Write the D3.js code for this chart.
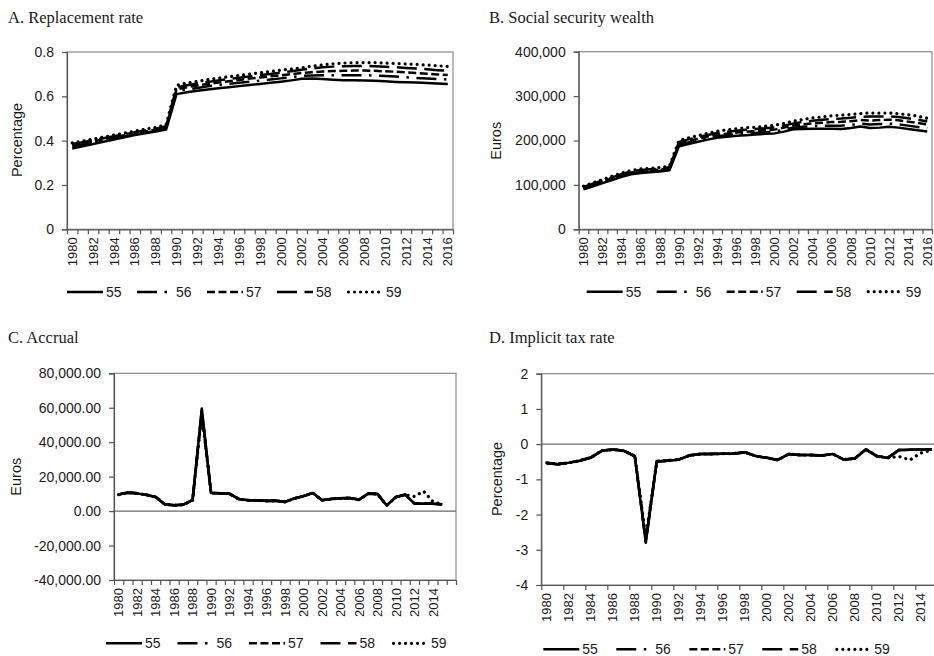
<!DOCTYPE html>
<html>
<head>
<meta charset="utf-8">
<script src="https://cdn.jsdelivr.net/npm/d3@7"></script>
<style>
  body { margin: 0; background: #fff; }
  svg { display: block; }
</style>
</head>
<body>
<svg id="chart" width="934" height="656"></svg>
<script>
// Categories (years) for panels A/B and C/D
const yearsAB = [1980,1981,1982,1983,1984,1985,1986,1987,1988,1989,1990,1991,1992,1993,1994,1995,1996,1997,1998,1999,
                 2000,2001,2002,2003,2004,2005,2006,2007,2008,2009,2010,2011,2012,2013,2014,2015,2016];
const yearsCD = [1980,1981,1982,1983,1984,1985,1986,1987,1988,1989,1990,1991,1992,1993,1994,1995,1996,1997,1998,1999,
                 2000,2001,2002,2003,2004,2005,2006,2007,2008,2009,2010,2011,2012,2013,2014,2015,""];

const seriesNames = ["55", "56", "57", "58", "59"];

// A. Replacement rate
const repl55 = [.365,.375,.385,.395,.405,.415,.425,.433,.441,.450,.610,.618,.625,.631,.636,.641,.646,.651,.656,.661,
                .666,.672,.679,.680,.678,.675,.673,.672,.671,.670,.668,.665,.663,.662,.660,.658,.656];
const repl56 = [.375,.383,.392,.401,.410,.419,.428,.436,.444,.455,.622,.631,.638,.645,.651,.656,.661,.666,.671,.676,
                .681,.686,.692,.694,.695,.695,.695,.695,.695,.694,.692,.689,.686,.683,.680,.678,.676];
const repl57 = [.380,.388,.397,.406,.415,.424,.433,.441,.449,.460,.632,.641,.649,.656,.662,.668,.674,.680,.685,.690,
                .695,.700,.705,.709,.712,.714,.715,.716,.716,.715,.713,.711,.708,.705,.702,.699,.696];
const repl58 = [.385,.393,.402,.411,.420,.429,.438,.446,.454,.465,.640,.650,.658,.665,.672,.678,.684,.690,.696,.701,
                .707,.713,.720,.726,.731,.734,.736,.737,.737,.736,.734,.731,.728,.725,.722,.718,.715];
const repl59 = [.390,.398,.407,.416,.425,.434,.443,.452,.460,.472,.650,.660,.668,.675,.682,.688,.694,.700,.706,.712,
                .718,.723,.729,.736,.742,.747,.750,.752,.752,.752,.750,.748,.746,.744,.741,.738,.735];

// B. Social security wealth (euros)
const ssw55 = [90000,97000,104000,111000,118000,124000,127000,128500,130000,133000,187000,192000,197000,202000,206000,208500,210500,212000,213500,215000,
               216000,220000,225500,226000,226500,226500,226500,226000,228000,231500,228000,229000,231000,229000,226000,223000,220500];
const ssw56 = [92000,99000,106000,113000,120000,126000,129000,130500,132000,135000,190500,195500,200500,205500,209500,212000,214000,215500,217000,218500,
               220000,224000,229500,231000,232500,233000,233500,233500,235000,238000,236000,237000,238000,236500,233500,230500,227500];
const ssw57 = [93500,100500,108000,115000,122000,128000,131000,132500,134500,137500,193500,199000,204000,209000,213000,215500,218000,219500,221500,223000,
               224500,229000,234000,236500,238500,240000,241500,242000,243500,246000,245000,246000,247000,245500,242500,239500,236000];
const ssw58 = [95500,102500,110000,117000,124500,130500,133500,135000,136500,139500,196500,202500,207500,212500,217000,219500,222000,224000,226000,227500,
               229500,233500,238500,242000,244500,246500,248500,249500,251000,253500,254000,254000,254500,253000,250000,247000,243000];
const ssw59 = [97000,104500,112000,119500,127000,132500,136000,137500,139000,142000,200000,206000,211000,216000,221000,224000,226500,228500,230000,232000,
               234500,238500,243500,247500,251000,253000,255500,257000,258500,260500,262000,261500,262000,260000,258000,255000,250000];

// C. Accrual (euros)
const acc55 = [9600,10700,10300,9400,8200,3900,3400,3700,6300,59500,10500,10300,10000,7000,6300,6200,5900,6000,5300,7300,
               8700,10500,6300,7000,7400,7600,6600,10100,9900,3300,8100,9500,4400,4300,4200,3900];
const acc56 = [9700,10800,10400,9500,8300,4000,3500,3800,6400,59000,10600,10400,10100,7100,6400,6300,6000,6100,5400,7400,
               8800,10600,6400,7100,7500,7700,6700,10200,10000,3400,8200,9600,4500,4400,4300,4000];
const acc57 = [9650,10750,10350,9450,8250,3950,3450,3750,6350,58000,10550,10350,10050,7050,6350,6250,5950,6050,5350,7350,
               8750,10550,6350,7050,7450,7650,6650,10150,9950,3350,8150,9550,4450,4350,4250,3950];
const acc58 = [9700,10700,10300,9500,8200,3900,3400,3700,6400,57000,10500,10300,10000,7000,6300,6200,5900,6000,5300,7300,
               8700,10500,6300,7000,7400,7600,6600,10100,9900,3300,8100,9500,4400,4300,4200,3900];
const acc59 = [9600,10700,10300,9400,8200,3900,3400,3700,6300,56000,10500,10300,10000,7000,6300,6200,5900,6000,5300,7300,
               8700,10500,6300,7000,7400,7600,6600,10100,9900,3300,8100,9500,8500,11500,5500,4000];

// D. Implicit tax rate
const itr55 = [-0.53,-0.57,-0.53,-0.47,-0.38,-0.19,-0.15,-0.19,-0.34,-2.80,-0.49,-0.47,-0.44,-0.32,-0.28,-0.28,-0.27,-0.27,-0.23,-0.34,
               -0.39,-0.45,-0.28,-0.31,-0.31,-0.32,-0.28,-0.44,-0.41,-0.15,-0.34,-0.39,-0.17,-0.16,-0.16,-0.15];
const itr56 = [-0.54,-0.57,-0.54,-0.47,-0.39,-0.19,-0.16,-0.19,-0.35,-2.78,-0.49,-0.47,-0.44,-0.32,-0.28,-0.28,-0.27,-0.27,-0.23,-0.34,
               -0.39,-0.45,-0.28,-0.31,-0.31,-0.32,-0.28,-0.44,-0.41,-0.15,-0.34,-0.39,-0.17,-0.16,-0.16,-0.15];
const itr57 = [-0.53,-0.56,-0.53,-0.46,-0.38,-0.18,-0.15,-0.18,-0.34,-2.74,-0.48,-0.46,-0.43,-0.31,-0.28,-0.27,-0.27,-0.26,-0.23,-0.34,
               -0.38,-0.44,-0.28,-0.31,-0.31,-0.32,-0.28,-0.43,-0.41,-0.15,-0.34,-0.39,-0.17,-0.16,-0.16,-0.15];
const itr58 = [-0.54,-0.57,-0.53,-0.47,-0.38,-0.19,-0.15,-0.19,-0.34,-2.70,-0.49,-0.47,-0.44,-0.32,-0.28,-0.28,-0.27,-0.27,-0.23,-0.34,
               -0.39,-0.45,-0.28,-0.31,-0.31,-0.32,-0.28,-0.44,-0.41,-0.15,-0.34,-0.39,-0.17,-0.16,-0.16,-0.15];
const itr59 = [-0.53,-0.57,-0.53,-0.47,-0.38,-0.19,-0.15,-0.19,-0.34,-2.65,-0.49,-0.47,-0.44,-0.32,-0.28,-0.28,-0.27,-0.27,-0.23,-0.34,
               -0.39,-0.45,-0.28,-0.31,-0.31,-0.32,-0.28,-0.44,-0.41,-0.15,-0.34,-0.39,-0.35,-0.45,-0.25,-0.17];

// Tick values
const ticksA = [0, 0.2, 0.4, 0.6, 0.8];
const ticksB = [0, 100000, 200000, 300000, 400000];
const ticksC = [-40000, -20000, 0, 20000, 40000, 60000, 80000];
const ticksD = [-4, -3, -2, -1, 0, 1, 2];

// Line styles per series: solid, long dash dot, dash, long dash, round dot
const dashes = [null, "20 7.5 2.5 7.5", "8 3.5", "20 7.5", "0.01 6"];
const caps = ["butt", "butt", "butt", "butt", "round"];
const widths = [2.5, 2.5, 2.5, 2.5, 3.2];

const loc = d3.formatLocale({decimal: ".", thousands: ",", grouping: [3], currency: ["", ""], minus: "-"});

const SANS = "'Liberation Sans', Arial, sans-serif";
const SERIF = "'Liberation Serif', 'Times New Roman', serif";
const INK = "#1a1a1a";

const svg = d3.select("#chart");

function panel(cfg) {
  const g = svg.append("g");
  const x = d3.scaleBand().domain(cfg.cats.map((d, i) => i)).range([cfg.left, cfg.right]);
  const y = d3.scaleLinear().domain(cfg.yDomain).range([cfg.bottom, cfg.top]);
  const edge = d3.scaleLinear().domain([0, cfg.cats.length]).range([cfg.left, cfg.right]);

  // title
  g.append("text").attr("x", cfg.titleX).attr("y", cfg.titleY)
    .attr("font-family", SERIF).attr("font-size", 16.5).attr("fill", INK).text(cfg.title);

  // plot area frame
  g.append("rect").attr("x", cfg.left).attr("y", cfg.top)
    .attr("width", cfg.right - cfg.left).attr("height", cfg.bottom - cfg.top)
    .attr("fill", "none").attr("stroke", "#8a8a8a").attr("stroke-width", 1.2);

  // zero line
  if (cfg.zeroLine) {
    g.append("line").attr("x1", cfg.left).attr("x2", cfg.right)
      .attr("y1", y(0)).attr("y2", y(0)).attr("stroke", "#6a6a6a").attr("stroke-width", 1.2);
  }

  // y axis
  const ya = g.append("g").attr("transform", `translate(${cfg.left},0)`)
    .call(d3.axisLeft(y).tickValues(cfg.yTicks).tickFormat(cfg.fmt).tickSize(5).tickPadding(8));
  ya.select(".domain").attr("stroke", "#555").attr("stroke-width", 1.2);
  ya.selectAll(".tick line").attr("stroke", "#555").attr("stroke-width", 1.2);
  ya.selectAll("text").attr("font-family", SANS).attr("font-size", 14).attr("fill", INK);

  // x axis tick marks at category boundaries
  const tickIdx = d3.range(0, cfg.cats.length + 1, cfg.tickEvery);
  const xt = g.append("g").attr("transform", `translate(0,${cfg.bottom})`)
    .call(d3.axisBottom(edge).tickValues(tickIdx).tickFormat("").tickSize(5).tickSizeOuter(0));
  xt.select(".domain").attr("stroke", "#555").attr("stroke-width", 1.2);
  xt.selectAll(".tick line").attr("stroke", "#555").attr("stroke-width", 1.2);

  // x axis year labels, every second category
  const labIdx = cfg.cats.map((d, i) => i).filter(i => i % 2 === 0);
  const xl = g.append("g").attr("transform", `translate(0,${cfg.bottom})`)
    .call(d3.axisBottom(x).tickValues(labIdx).tickFormat(i => cfg.cats[i]).tickSize(0));
  xl.select(".domain").remove();
  xl.selectAll("text")
    .attr("font-family", SANS).attr("font-size", 13).attr("fill", INK)
    .attr("transform", "rotate(-90)").attr("text-anchor", "end")
    .attr("x", -8).attr("y", 0).attr("dy", "0.36em");

  // axis title
  g.append("text").attr("transform", `translate(${cfg.ytX},${cfg.ytY}) rotate(-90)`)
    .attr("text-anchor", "middle").attr("dy", "0.35em")
    .attr("font-family", SANS).attr("font-size", 14.5).attr("fill", INK).text(cfg.yTitle);

  // series lines
  const line = d3.line().x((d, i) => x(i) + x.bandwidth() / 2).y(d => y(d));
  cfg.series.forEach((s, k) => {
    g.append("path").datum(s).attr("d", line)
      .attr("fill", "none").attr("stroke", "#000").attr("stroke-width", widths[k])
      .attr("stroke-linejoin", "round").attr("stroke-linecap", caps[k])
      .attr("stroke-dasharray", dashes[k]);
  });

  // legend
  const lg = g.append("g");
  seriesNames.forEach((name, k) => {
    const lx = cfg.legX + k * cfg.legStep;
    lg.append("line").attr("x1", lx + (k === 4 ? 1.5 : 0)).attr("x2", lx + 36).attr("y1", cfg.legY).attr("y2", cfg.legY)
      .attr("stroke", "#000").attr("stroke-width", widths[k])
      .attr("stroke-linecap", caps[k]).attr("stroke-dasharray", dashes[k]);
    lg.append("text").attr("x", lx + 39).attr("y", cfg.legY).attr("dy", "0.36em")
      .attr("font-family", SANS).attr("font-size", 14).attr("fill", INK).text(name);
  });
}

panel({
  title: "A. Replacement rate", titleX: 8, titleY: 22.5,
  cats: yearsAB, left: 67, right: 453, top: 52, bottom: 229.3,
  yDomain: [0, 0.8], yTicks: ticksA, fmt: d => d === 0 ? "0" : loc.format(".1f")(d),
  tickEvery: 1, yTitle: "Percentage", ytX: 17, ytY: 140,
  series: [repl55, repl56, repl57, repl58, repl59],
  legX: 67, legStep: 70, legY: 292
});

panel({
  title: "B. Social security wealth", titleX: 489, titleY: 22.5,
  cats: yearsAB, left: 578.7, right: 932, top: 51.7, bottom: 229.3,
  yDomain: [0, 400000], yTicks: ticksB, fmt: loc.format(","),
  tickEvery: 1, yTitle: "Euros", ytX: 496, ytY: 140.8,
  series: [ssw55, ssw56, ssw57, ssw58, ssw59],
  legX: 586.7, legStep: 70, legY: 291.7
});

panel({
  title: "C. Accrual", titleX: 8, titleY: 342.7,
  cats: yearsCD, left: 114, right: 456, top: 373.3, bottom: 580,
  yDomain: [-40000, 80000], yTicks: ticksC, fmt: loc.format(",.2f"),
  tickEvery: 1, zeroLine: true, yTitle: "Euros", ytX: 16, ytY: 476.7,
  series: [acc55, acc56, acc57, acc58, acc59],
  legX: 106, legStep: 71.5, legY: 643.3
});

panel({
  title: "D. Implicit tax rate", titleX: 489, titleY: 343,
  cats: yearsCD, left: 541.3, right: 948.3, top: 373.7, bottom: 585,
  yDomain: [-4, 2], yTicks: ticksD, fmt: loc.format("d"),
  tickEvery: 2, zeroLine: true, yTitle: "Percentage", ytX: 496.5, ytY: 479,
  series: [itr55, itr56, itr57, itr58, itr59],
  legX: 543.3, legStep: 73, legY: 649.3
});
</script>
</body>
</html>
